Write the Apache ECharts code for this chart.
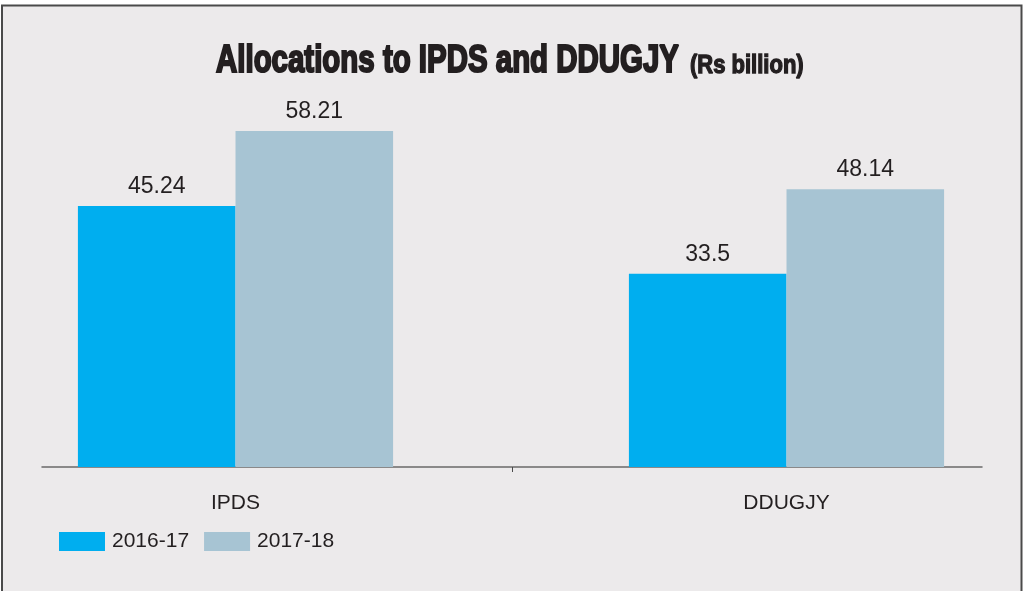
<!DOCTYPE html>
<html>
<head>
<meta charset="utf-8">
<title>Allocations to IPDS and DDUGJY</title>
<script src="https://cdn.jsdelivr.net/npm/echarts@6/dist/echarts.min.js"></script>
<style>
  html, body { margin: 0; padding: 0; background: #ffffff; }
  #main { width: 1024px; height: 591px; }
</style>
</head>
<body>
<div id="main"></div>
<script>
// chart data
var categories = ["IPDS", "DDUGJY"];
var seriesNames = ["2016-17", "2017-18"];
var values2016 = [45.24, 33.5];
var values2017 = [58.21, 48.14];

var sans = '"Liberation Sans", Arial, sans-serif';
var ink = "#231f20";

var myChart = echarts.init(document.getElementById("main"));

myChart.setOption({
  backgroundColor: "#ffffff",
  animation: false,
  color: ["#00aeef", "#a7c4d3"],
  graphic: [
    {
      type: "rect",
      z: -10,
      silent: true,
      shape: { x: 2, y: 5.5, width: 1019.5, height: 700 },
      style: { fill: "#eceaeb", stroke: "#4a4a4a", lineWidth: 2 },
    },
    {
      type: "text",
      x: 216,
      y: 61.5,
      scaleX: 0.755,
      style: {
        text: "Allocations to IPDS and DDUGJY",
        font: 'bold 39px "Liberation Sans", Arial, sans-serif',
        fill: ink,
        stroke: ink,
        lineWidth: 2.2,
        textAlign: "left",
        textVerticalAlign: "middle",
      },
    },
    {
      type: "text",
      x: 690,
      y: 66,
      scaleX: 0.88,
      style: {
        text: "(Rs billion)",
        font: 'bold 25px "Liberation Sans", Arial, sans-serif',
        fill: ink,
        stroke: ink,
        lineWidth: 1.3,
        textAlign: "left",
        textVerticalAlign: "middle",
      },
    },
  ],
  legend: {
    data: seriesNames,
    left: 59,
    top: 531,
    padding: 0,
    icon: "rect",
    itemWidth: 46,
    itemHeight: 19,
    itemGap: 15,
    textStyle: {
      fontFamily: sans,
      fontSize: 21,
      color: ink,
      padding: [0, 0, 0, 2],
    },
  },
  grid: [
    // the visible baseline with the middle tick
    { left: 42, right: 42, top: 63, bottom: 124, outerBoundsMode: "none" },
    // the bars and category labels
    { left: -40, right: -38, top: 63, bottom: 124, outerBoundsMode: "none" },
  ],
  xAxis: [
    {
      gridIndex: 0,
      type: "value",
      min: 0,
      max: 2,
      interval: 1,
      axisLine: { show: true, onZero: false, lineStyle: { color: "#6a6a6a", width: 1.5 } },
      axisTick: { show: true, customValues: [1], length: 5, lineStyle: { color: "#4a4a4a", width: 1 } },
      axisLabel: { show: false },
      splitLine: { show: false },
    },
    {
      gridIndex: 1,
      type: "category",
      data: categories,
      axisLine: { show: false },
      axisTick: { show: false },
      axisLabel: {
        margin: 26,
        fontFamily: sans,
        fontSize: 21,
        color: ink,
      },
    },
  ],
  yAxis: [
    { gridIndex: 0, type: "value", min: 0, max: 70, show: false },
    { gridIndex: 1, type: "value", min: 0, max: 70, show: false },
  ],
  series: [
    {
      name: seriesNames[0],
      type: "bar",
      xAxisIndex: 1,
      yAxisIndex: 1,
      data: values2016,
      barGap: "0%",
      barCategoryGap: "42.8%",
      label: {
        show: true,
        position: "top",
        distance: 8,
        fontFamily: sans,
        fontSize: 23,
        color: ink,
      },
    },
    {
      name: seriesNames[1],
      type: "bar",
      xAxisIndex: 1,
      yAxisIndex: 1,
      data: values2017,
      barGap: "0%",
      barCategoryGap: "42.8%",
      label: {
        show: true,
        position: "top",
        distance: 8,
        fontFamily: sans,
        fontSize: 23,
        color: ink,
      },
    },
  ],
});
</script>
</body>
</html>
